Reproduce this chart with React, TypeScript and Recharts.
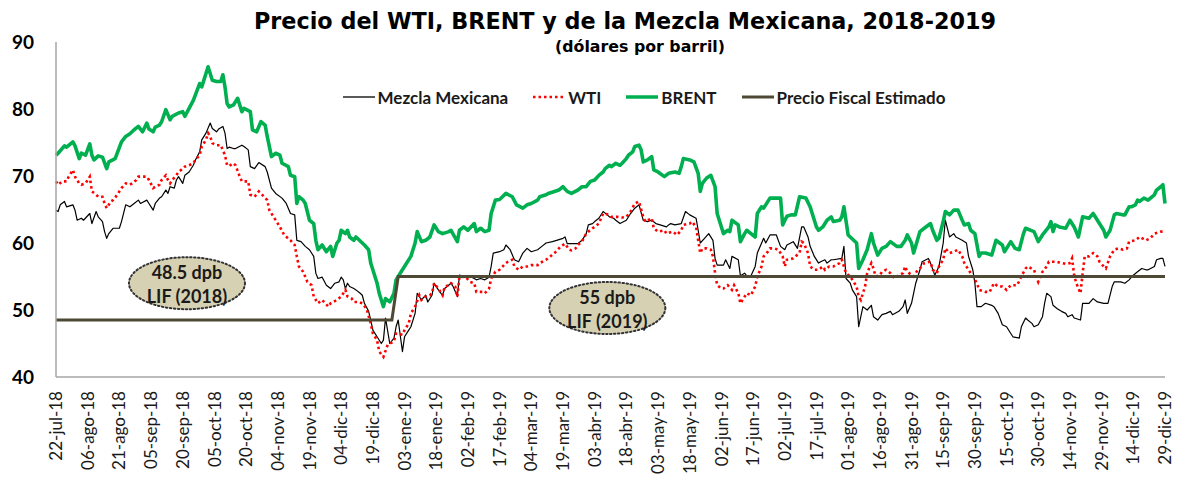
import React from 'react';
import { LineChart, Line, XAxis, YAxis, ReferenceDot } from 'recharts';

// x = days since 22-jul-2018, y = US$ per barrel
const tickLabels = [
  '22-jul-18', '06-ago-18', '21-ago-18', '05-sep-18', '20-sep-18', '05-oct-18', '20-oct-18',
  '04-nov-18', '19-nov-18', '04-dic-18', '19-dic-18', '03-ene-19', '18-ene-19', '02-feb-19',
  '17-feb-19', '04-mar-19', '19-mar-19', '03-abr-19', '18-abr-19', '03-may-19', '18-may-19',
  '02-jun-19', '17-jun-19', '02-jul-19', '17-jul-19', '01-ago-19', '16-ago-19', '31-ago-19',
  '15-sep-19', '30-sep-19', '15-oct-19', '30-oct-19', '14-nov-19', '29-nov-19', '14-dic-19',
  '29-dic-19',
];
const tickStepDays = 15;
const yTicks = [40, 50, 60, 70, 80, 90];

const mezcla: [number, number][] = [
  [0,64.9],[1,64.7],[2,65.7],[4,66.2],[5,65.4],[8,65.7],[9,64.9],[10,63.4],[12,63.7],[13,63.4],[16,64.4],[17,62.9],[19,64.7],[20,63.9],[22,63.2],[23,61.7],[24,60.7],[25,61.4],[27,62.2],[30,62.2],[31,63.2],[33,65.7],[35,65.4],[37,65.9],[39,66.4],[40,65.9],[43,66.4],[44,65.9],[46,64.9],[47,65.9],[49,66.7],[50,66.9],[52,67.9],[53,67.4],[54,68.4],[56,68.2],[57,69.4],[58,69.9],[60,68.9],[61,70.1],[63,70.6],[65,71.6],[66,72.4],[68,73.6],[69,75.4],[71,76.4],[73,77.9],[74,77.1],[76,76.6],[77,77.0],[79,77.4],[80,76.4],[81,74.1],[82,74.3],[84,74.1],
  [85,74.1],[88,74.6],[89,74.4],[91,73.9],[92,71.4],[94,71.1],[96,72.0],[99,71.4],[100,70.6],[102,68.2],[104,67.4],[107,66.7],[109,65.9],[111,64.4],[113,64.2],[114,60.4],[116,60.2],[118,59.5],[120,59.0],[122,58.0],[123,55.5],[124,54.7],[126,54.9],[128,53.7],[130,53.2],[132,54.0],[134,54.2],[135,54.9],[136,54.5],[137,53.2],[138,54.0],[139,53.5],[141,53.2],[142,53.0],[144,52.5],[145,52.2],[146,51.0],[148,49.8],[149,48.5],[150,47.0],[152,46.0],[154,45.0],[155,45.5],[156,48.8],[158,45.0],[160,45.8],[161,47.5],[162,48.5],[164,43.8],[165,46.0],[167,47.0],[168,47.5],[170,49.5],[171,52.5],[173,51.5],[175,52.2],
  [176,51.2],[178,52.2],[179,54.0],[181,53.0],[183,52.2],[184,53.2],[187,54.0],[188,53.5],[190,52.0],[191,55.2],[193,55.0],[195,54.9],[196,55.0],[198,54.7],[199,54.5],[201,54.7],[203,54.5],[205,54.9],[206,56.5],[207,58.5],[210,58.7],[212,59.0],[213,59.7],[215,59.0],[217,57.5],[219,57.2],[221,58.5],[223,59.2],[225,58.7],[228,59.0],[230,59.5],[232,60.0],[235,60.2],[237,60.4],[240,60.7],[241,60.9],[242,59.9],[247,59.9],[249,60.4],[251,61.4],[252,62.7],[254,62.9],[255,63.2],[257,63.7],[259,64.7],[261,64.2],[262,63.9],[264,63.7],
  [265,63.4],[267,62.9],[270,63.4],[272,64.4],[274,65.2],[276,65.7],[278,63.4],[280,63.2],[282,63.4],[284,62.9],[286,62.7],[289,62.4],[290,62.7],[291,62.9],[293,62.7],[296,62.9],[298,64.7],[300,64.2],[303,63.7],[304,61.9],[305,60.0],[307,60.7],[309,61.4],[311,60.4],[312,57.7],[313,56.7],[316,56.7],[317,57.5],[319,56.2],[320,58.0],[323,57.5],[324,55.1],[326,55.5],[327,55.1],[329,55.1],[331,56.5],[332,58.5],[335,60.7],[336,60.0],[338,61.2],[341,61.2],[343,59.5],[345,59.0],[346,59.7],[349,60.2],[351,59.2],[353,62.4],
  [354,62.4],[356,60.9],[357,59.5],[359,58.0],[361,57.0],[362,57.2],[364,57.5],[365,57.0],[367,57.5],[368,57.5],[372,57.7],[373,59.5],[374,54.7],[376,54.0],[377,53.0],[379,52.0],[380,47.5],[382,50.5],[384,50.0],[386,50.7],[387,49.0],[389,48.5],[391,49.3],[393,49.5],[395,49.8],[396,49.3],[399,49.8],[401,50.5],[402,51.5],[403,49.5],[405,51.0],[407,54.0],[409,56.0],[410,57.2],[413,57.7],[414,57.0],[416,55.2],[418,56.5],[420,60.0],[421,63.4],[423,60.9],[425,61.4],[426,60.9],[429,60.4],[431,60.0],[432,58.0],[434,56.0],[435,54.0],[436,50.5],[438,50.5],[440,51.0],[443,50.7],
  [444,50.5],[446,49.5],[448,47.8],[450,47.5],[452,46.5],[453,46.0],[456,45.8],[457,47.5],[459,48.8],[460,48.5],[462,48.0],[463,47.5],[465,47.8],[467,49.0],[468,51.0],[469,52.5],[471,52.0],[472,50.7],[474,50.2],[476,49.8],[478,49.5],[479,49.0],[481,49.3],[482,48.8],[485,48.5],[486,51.0],[489,51.0],[491,51.7],[493,51.2],[496,51.0],[498,51.0],[500,53.5],[501,54.2],[504,54.2],[506,54.0],[508,54.5],[510,55.2],[512,55.7],[514,56.2],[516,56.0],[517,56.0],[520,56.5],[521,57.5],[523,57.7],[524,57.7],[525,56.5],
];

const wti: [number, number][] = [
  [0,69.2],[1,68.7],[3,69.2],[5,69.2],[6,69.9],[8,70.9],[9,69.9],[11,68.9],[12,68.7],[14,68.9],[16,69.9],[17,67.7],[19,67.2],[20,66.9],[22,66.9],[23,65.9],[24,65.2],[26,66.2],[27,66.4],[29,67.2],[31,68.2],[33,68.9],[35,68.7],[36,68.9],[38,69.4],[39,69.9],[43,69.9],[44,69.4],[46,68.2],[47,68.4],[49,68.7],[50,69.4],[52,70.1],[53,69.4],[54,68.9],[55,69.4],[57,70.1],[58,70.6],[60,71.1],[61,71.4],[63,71.6],[65,71.9],[66,72.4],[68,73.1],[69,74.4],[71,75.4],[72,76.4],[73,75.9],[74,74.9],[76,74.6],[78,74.6],[80,73.1],[81,71.6],[82,71.5],[84,71.9],
  [85,71.6],[87,69.9],[88,69.2],[91,69.2],[92,67.2],[94,66.9],[96,67.7],[97,67.4],[100,66.4],[101,64.9],[104,63.4],[106,62.4],[108,61.2],[111,60.4],[113,59.7],[114,58.0],[115,56.5],[117,55.7],[119,54.2],[121,53.7],[122,52.0],[124,51.0],[126,51.5],[129,50.5],[130,51.0],[133,51.5],[135,52.0],[137,53.0],[138,52.0],[140,51.7],[141,51.2],[143,51.2],[145,51.0],[147,50.2],[149,48.0],[150,46.5],[152,45.5],[153,43.8],[155,43.0],[157,44.8],[158,45.0],[160,45.3],[161,46.5],[164,46.3],[165,47.0],[167,48.0],[168,49.5],[170,50.5],[172,52.2],[173,51.5],[175,52.0],[177,52.2],
  [178,52.5],[179,54.0],[181,53.2],[183,52.2],[184,53.5],[186,53.7],[187,54.0],[189,53.5],[190,52.0],[191,55.0],[194,54.9],[196,54.2],[198,54.0],[199,52.7],[200,52.7],[202,52.7],[203,52.5],[205,53.2],[206,54.7],[208,55.7],[210,56.0],[213,57.0],[214,57.2],[216,57.5],[217,56.5],[219,56.0],[221,56.5],[223,56.5],[225,56.7],[228,56.7],[229,57.0],[232,57.5],[234,58.0],[236,58.5],[239,59.5],[241,59.9],[243,59.0],[244,58.9],[246,59.2],[247,59.7],[249,60.2],[251,61.4],[252,61.7],[254,62.2],[255,62.4],[257,62.9],[259,64.4],[262,64.2],[263,63.9],[266,63.9],
  [268,63.8],[270,63.9],[272,64.7],[274,65.9],[276,66.2],[278,63.9],[279,63.2],[282,63.7],[283,62.2],[285,61.7],[288,61.9],[289,61.4],[292,61.7],[294,61.2],[296,61.9],[297,62.7],[300,62.9],[301,63.2],[303,62.4],[304,60.4],[305,58.5],[306,59.2],[308,59.2],[310,59.0],[311,58.0],[312,55.5],[313,53.7],[315,53.2],[316,53.2],[318,53.7],[320,53.0],[321,53.7],[323,52.5],[324,51.0],[326,52.0],[327,52.5],[329,52.2],[331,53.5],[332,55.0],[334,56.5],[335,58.0],[337,58.7],[338,59.2],[340,59.2],[342,59.0],[344,58.0],[345,56.5],[346,57.5],[349,57.7],[350,58.0],[352,58.5],
  [353,60.2],[354,60.0],[356,58.5],[357,56.5],[359,56.0],[361,56.0],[363,56.5],[364,56.0],[366,56.5],[368,56.5],[371,57.0],[372,57.5],[374,55.5],[376,55.0],[377,54.5],[379,53.5],[380,52.0],[381,51.5],[383,53.5],[384,55.5],[386,57.0],[387,56.2],[388,55.0],[390,55.2],[391,55.7],[393,56.0],[395,55.5],[397,54.7],[399,55.2],[401,55.5],[402,56.5],[403,55.7],[406,55.0],[408,56.0],[410,56.5],[411,57.0],[414,57.2],[415,56.0],[417,55.5],[418,56.5],[420,57.5],[421,59.2],[423,58.5],[425,58.7],[427,59.0],[429,58.0],[430,57.0],[432,56.0],[434,55.0],[436,54.0],[437,53.0],[440,52.7],[442,52.7],
  [444,54.0],[446,53.5],[448,53.5],[450,53.0],[452,53.7],[455,53.7],[457,55.0],[459,56.2],[460,56.5],[463,56.0],[465,54.2],[467,55.7],[469,56.5],[470,57.2],[473,57.2],[475,57.1],[478,56.9],[480,57.0],[481,57.7],[482,55.2],[483,54.0],[485,52.5],[486,55.5],[487,58.0],[489,58.0],[491,58.5],[493,58.0],[494,57.2],[496,56.5],[497,56.2],[499,58.0],[501,59.0],[503,59.2],[505,59.0],[507,59.2],[508,60.2],[511,60.4],[513,60.9],[516,60.4],[518,60.7],[520,61.4],[523,61.7],[525,61.7],
];

const brent: [number, number][] = [
  [0,73.1],[1,73.4],[4,74.5],[5,74.3],[8,75.1],[9,74.5],[11,72.6],[12,73.4],[14,73.1],[16,74.8],[17,73.1],[18,72.4],[20,73.0],[22,72.8],[24,71.1],[25,72.1],[28,72.6],[31,75.1],[33,75.9],[35,76.3],[37,76.9],[39,77.4],[41,76.6],[43,77.9],[44,77.0],[46,76.6],[47,77.3],[49,77.6],[50,78.1],[52,79.9],[54,78.4],[55,78.9],[58,79.4],[60,79.6],[61,78.9],[63,80.1],[65,81.3],[66,82.1],[68,83.8],[69,83.3],[71,85.3],[72,86.3],[74,84.3],[76,84.1],[78,84.1],[79,85.1],[80,83.3],[81,80.8],[82,80.3],[84,80.6],
  [86,81.6],[88,79.6],[89,80.1],[92,79.6],[93,76.9],[95,76.6],[97,78.1],[99,77.6],[100,75.9],[102,72.9],[104,73.4],[106,73.1],[107,71.9],[110,71.4],[111,70.1],[113,69.9],[114,65.9],[115,66.9],[117,66.4],[118,65.9],[120,63.4],[122,62.9],[123,60.4],[124,59.0],[126,59.7],[128,58.7],[130,59.5],[131,58.0],[133,60.0],[134,60.4],[135,61.9],[137,61.4],[138,61.9],[139,60.9],[141,60.4],[142,60.9],[145,60.0],[146,59.7],[148,59.0],[149,57.0],[150,56.0],[152,54.0],[153,52.5],[155,50.5],[156,51.7],[158,51.2],[160,52.5],[161,54.5],[164,56.0],[168,58.0],[170,60.0],[171,61.7],[173,60.2],[175,60.4],
  [177,60.9],[179,62.7],[181,61.7],[183,61.4],[186,61.7],[187,61.9],[190,60.2],[191,61.9],[193,62.4],[195,61.9],[198,62.9],[199,61.7],[201,62.2],[203,61.7],[205,61.9],[206,64.4],[208,66.4],[210,66.5],[213,67.4],[216,66.9],[218,65.7],[221,65.2],[223,65.7],[225,65.9],[228,66.4],[229,66.9],[232,67.2],[233,67.4],[236,67.7],[238,67.9],[240,68.4],[242,67.7],[244,67.4],[247,67.9],[249,68.4],[251,68.4],[253,69.2],[255,69.4],[257,70.1],[259,70.6],[260,71.1],[262,71.6],[263,71.4],[265,71.9],[267,71.6],
  [268,71.9],[270,72.6],[271,73.1],[273,73.6],[274,74.4],[276,74.6],[277,73.9],[278,72.1],[280,72.4],[282,72.9],[283,70.9],[285,70.6],[288,69.9],[290,70.4],[293,70.6],[295,70.4],[296,71.4],[297,72.6],[300,72.4],[302,72.1],[304,70.4],[305,67.7],[306,68.9],[308,69.7],[310,70.1],[312,68.4],[313,64.4],[315,62.4],[316,61.4],[318,61.9],[319,61.7],[320,63.4],[323,62.7],[324,60.2],[326,61.4],[327,61.9],[329,61.4],[331,60.9],[332,64.4],[334,65.4],[335,65.2],[338,66.7],[340,66.7],[343,66.7],[344,62.7],[346,64.0],[348,64.2],[350,64.2],[352,66.9],
  [355,66.7],[357,65.4],[360,62.4],[361,61.9],[363,62.4],[365,63.4],[367,63.9],[368,63.2],[371,63.4],[372,63.9],[373,65.4],[375,61.2],[376,60.9],[379,60.0],[380,56.2],[382,57.5],[384,59.0],[386,61.4],[387,60.0],[389,58.2],[391,59.2],[393,59.5],[395,60.2],[398,59.5],[400,59.5],[402,60.4],[403,61.2],[405,60.0],[406,58.5],[409,61.7],[411,62.2],[414,62.9],[415,61.9],[417,60.4],[418,60.7],[420,63.2],[421,64.7],[423,64.2],[425,64.9],[427,64.9],[429,63.4],[430,62.7],[432,62.9],[433,61.9],[435,61.4],[437,58.0],[438,58.5],[440,58.5],[443,58.2],
  [445,60.4],[448,59.7],[449,58.7],[452,60.2],[454,59.2],[456,59.0],[458,61.4],[459,62.2],[463,61.7],[465,60.2],[467,61.2],[470,62.4],[471,63.2],[472,61.7],[473,62.7],[475,62.4],[478,62.2],[480,63.4],[482,62.4],[484,60.9],[486,63.9],[489,63.7],[491,64.4],[493,63.4],[496,61.9],[497,60.9],[499,61.9],[501,64.2],[502,64.4],[505,64.2],[506,64.2],[508,65.4],[509,65.4],[511,65.7],[512,66.4],[513,66.2],[515,66.7],[517,66.4],[520,67.2],[521,67.9],[523,68.4],[524,68.7],[525,65.9],
];

const fiscal: [number, number][] = [[0, 48.5], [159, 48.5], [162, 55], [525, 55]];

const notes = [
  { d: 62, v: 54.0, l1: '48.5 dpb', l2: 'LIF (2018)' },
  { d: 261, v: 50.3, l1: '55 dpb', l2: 'LIF (2019)' },
];

const rows = (pts: [number, number][]) => pts.map(([d, v]) => ({ d, v }));

const C_MEZ = '#000000';
const C_WTI = '#FF0000';
const C_BRENT = '#00B050';
const C_FISCAL = '#4E4935';
const AXIS = '#A6A6A6';
const FONT = 'Lato, "Liberation Sans", sans-serif';

const XTick = (props: any) => {
  const { x, payload } = props;
  const y0 = 391;
  const label = tickLabels[Math.round(payload.value / tickStepDays)];
  return (
    <text x={x} y={y0} transform={`rotate(-90 ${x} ${y0})`} textAnchor="end" dy="0.36em"
      fontFamily={FONT} fontSize={17} fill="#1a1a1a">{label}</text>
  );
};

const NoteShape = (l1: string, l2: string) => (p: any) => (
  <g>
    <ellipse cx={p.cx} cy={p.cy} rx={58} ry={26} fill="#D7D1B3" stroke="#333" strokeWidth={2}
      strokeDasharray="1.5 2.5" strokeLinecap="round" />
    <text x={p.cx} y={p.cy - 11} textAnchor="middle" dominantBaseline="central"
      fontFamily={FONT} fontWeight={700} fontSize={18} fill="#1a1a1a">{l1}</text>
    <text x={p.cx} y={p.cy + 13} textAnchor="middle" dominantBaseline="central"
      fontFamily={FONT} fontWeight={700} fontSize={18} fill="#1a1a1a">{l2}</text>
  </g>
);

const legendItems = [
  { name: 'Mezcla Mexicana', color: C_MEZ, width: 1.3, dash: undefined as string | undefined },
  { name: 'WTI', color: C_WTI, width: 2.6, dash: '2.5 3' },
  { name: 'BRENT', color: C_BRENT, width: 3.5, dash: undefined },
  { name: 'Precio Fiscal Estimado', color: C_FISCAL, width: 3, dash: undefined },
];

export default function App() {
  return (
    <div style={{ position: 'absolute', left: 0, top: 0, width: 1177, height: 484, background: '#fff', overflow: 'hidden' }}>
      <div style={{ position: 'absolute', left: 0, top: 7, width: 1250, textAlign: 'center',
        fontFamily: '"DejaVu Sans", sans-serif', fontWeight: 700, fontSize: 22.3, color: '#000', lineHeight: '28px' }}>
        Precio del WTI, BRENT y de la Mezcla Mexicana, 2018-2019
      </div>
      <div style={{ position: 'absolute', left: 0, top: 37, width: 1280, textAlign: 'center',
        fontFamily: '"DejaVu Sans", sans-serif', fontWeight: 700, fontSize: 15.8, color: '#000', lineHeight: '20px' }}>
        (dólares por barril)
      </div>
      <div style={{ position: 'absolute', left: 0, top: 86, width: 1288, display: 'flex', justifyContent: 'center',
        alignItems: 'center', gap: 25, fontFamily: FONT, fontWeight: 700, fontSize: 17, color: '#1a1a1a', height: 22 }}>
        {legendItems.map((it) => (
          <div key={it.name} style={{ display: 'flex', alignItems: 'center' }}>
            <svg width={32} height={10} style={{ marginRight: 3 }}>
              <line x1={0} y1={5} x2={32} y2={5} stroke={it.color} strokeWidth={it.width} strokeDasharray={it.dash} />
            </svg>
            <span>{it.name}</span>
          </div>
        ))}
      </div>
      <LineChart width={1177} height={484} margin={{ top: 42, right: 12, bottom: 0, left: 0 }}
        style={{ position: 'absolute', left: 0, top: 0 }}>
        <XAxis type="number" dataKey="d" domain={[0, (tickLabels.length - 1) * tickStepDays]}
          ticks={tickLabels.map((_, i) => i * tickStepDays)} interval={0} height={107}
          axisLine={{ stroke: AXIS, strokeWidth: 1.5 }} tickLine={false} tick={<XTick />} allowDuplicatedCategory />
        <YAxis type="number" domain={[40, 90]} ticks={yTicks} width={56} interval={0}
          axisLine={{ stroke: AXIS, strokeWidth: 1.5 }} tickLine={false} tickSize={0} tickMargin={22}
          tick={{ fontFamily: FONT, fontWeight: 700, fontSize: 19, fill: '#000' }} />
        <Line data={rows(mezcla)} dataKey="v" type="linear" stroke={C_MEZ} strokeWidth={1.2} dot={false}
          isAnimationActive={false} strokeLinejoin="round" />
        <Line data={rows(wti)} dataKey="v" type="linear" stroke={C_WTI} strokeWidth={2.6} strokeDasharray="2.5 3"
          dot={false} isAnimationActive={false} />
        <Line data={rows(brent)} dataKey="v" type="linear" stroke={C_BRENT} strokeWidth={3.6} dot={false}
          isAnimationActive={false} strokeLinejoin="round" />
        <Line data={rows(fiscal)} dataKey="v" type="linear" stroke={C_FISCAL} strokeWidth={3} dot={false}
          isAnimationActive={false} />
        {notes.map((n) => (
          <ReferenceDot key={n.l1} x={n.d} y={n.v} r={0} shape={NoteShape(n.l1, n.l2)} />
        ))}
      </LineChart>
    </div>
  );
}
